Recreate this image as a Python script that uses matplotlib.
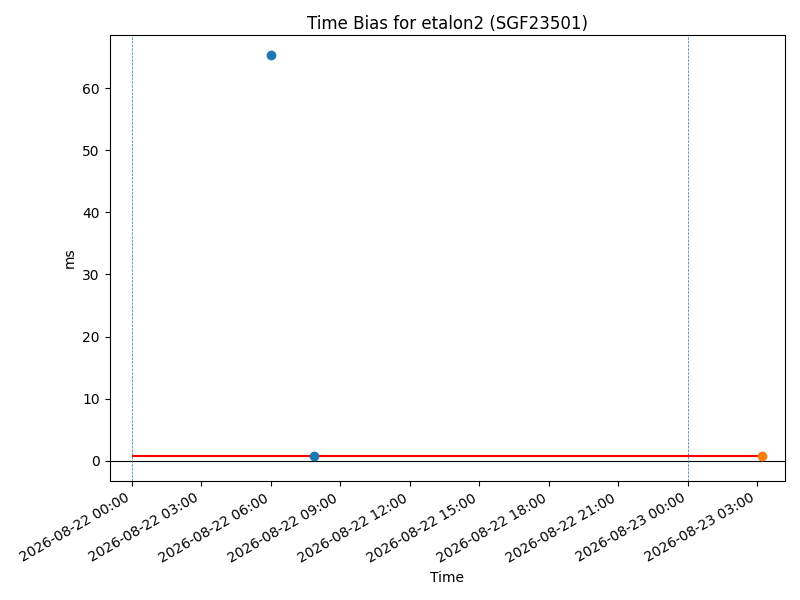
import matplotlib
matplotlib.use("Agg")
import matplotlib.pyplot as plt
import matplotlib.dates as mdates
from datetime import datetime

# Measured time bias values (ms)
day1_times = [datetime(2026, 8, 22, 6, 0), datetime(2026, 8, 22, 7, 51)]
day1_bias = [65.3, 0.8]
day2_times = [datetime(2026, 8, 23, 3, 11)]
day2_bias = [0.8]

# Reference level and day boundaries
ref_level = 0.8
ref_start = datetime(2026, 8, 22, 0, 0)
ref_end = datetime(2026, 8, 23, 3, 11)
day_bounds = [datetime(2026, 8, 22), datetime(2026, 8, 23)]

fig, ax = plt.subplots(figsize=(8, 6), dpi=100)

ax.axhline(0, color='black', linewidth=0.8)
for d in day_bounds:
    ax.axvline(d, color='C0', linestyle='--', linewidth=0.5)
ax.hlines(ref_level, ref_start, ref_end, colors='red', linewidth=1.5)

ax.plot(day1_times, day1_bias, 'o', color='C0')
ax.plot(day2_times, day2_bias, 'o', color='C1')

ax.xaxis.set_major_locator(mdates.HourLocator(byhour=range(0, 24, 3)))
ax.xaxis.set_major_formatter(mdates.DateFormatter('%Y-%m-%d %H:%M'))
ax.set_xlim(datetime(2026, 8, 21, 23, 3), datetime(2026, 8, 23, 4, 11))

ax.set_title('Time Bias for etalon2 (SGF23501)', pad=4.5)
ax.set_xlabel('Time')
ax.set_ylabel('ms')

fig.autofmt_xdate()
fig.subplots_adjust(left=0.137, right=0.981, top=0.942, bottom=0.198)
fig.savefig('out.png')
